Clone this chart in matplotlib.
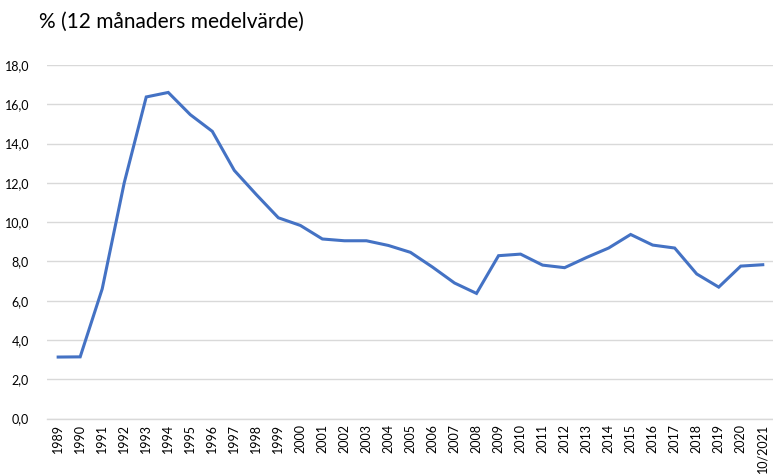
import matplotlib
matplotlib.use("Agg")
import matplotlib.pyplot as plt

years = ["1989", "1990", "1991", "1992", "1993", "1994", "1995", "1996", "1997", "1998",
         "1999", "2000", "2001", "2002", "2003", "2004", "2005", "2006", "2007", "2008",
         "2009", "2010", "2011", "2012", "2013", "2014", "2015", "2016", "2017", "2018",
         "2019", "2020", "10/2021"]
values = [3.13, 3.14, 6.6, 12.0, 16.37, 16.6, 15.47, 14.62, 12.63, 11.4,
          10.22, 9.83, 9.14, 9.05, 9.05, 8.81, 8.46, 7.71, 6.9, 6.37,
          8.29, 8.37, 7.81, 7.68, 8.2, 8.68, 9.37, 8.83, 8.68, 7.36,
          6.69, 7.76, 7.83]
yticks = [0, 2, 4, 6, 8, 10, 12, 14, 16, 18]
ytick_labels = ["0,0", "2,0", "4,0", "6,0", "8,0", "10,0", "12,0", "14,0", "16,0", "18,0"]
title = "% (12 månaders medelvärde)"

plt.rcParams['font.family'] = ['Lato', 'DejaVu Sans']

fig = plt.figure(figsize=(7.73, 4.74), dpi=100)
ax = fig.add_axes([0.061, 0.117, 0.94, 0.746])

x = list(range(len(years)))
ax.plot(x, values, color="#4472C4", linewidth=2.2, solid_joinstyle="miter")

ax.set_xlim(-0.5, len(years) - 0.5)
ax.set_ylim(0, 18)
ax.set_yticks(yticks)
ax.set_yticklabels(ytick_labels, fontsize=9, color="#000000")
ax.set_xticks(x)
ax.set_xticklabels(years, rotation=90, fontsize=9, color="#000000")
ax.tick_params(axis="both", length=0)
ax.tick_params(axis="y", pad=13)
ax.tick_params(axis="x", pad=4)

ax.grid(axis="y", color="#D9D9D9", linewidth=1.0)
ax.set_axisbelow(True)
for s in ["top", "right", "left"]:
    ax.spines[s].set_visible(False)
ax.spines["bottom"].set_color("#D9D9D9")
ax.spines["bottom"].set_linewidth(1.0)

fig.text(0.051, 0.953, title, fontsize=15, ha="left", va="center", color="#000000")

fig.savefig("out.png", dpi=100)
